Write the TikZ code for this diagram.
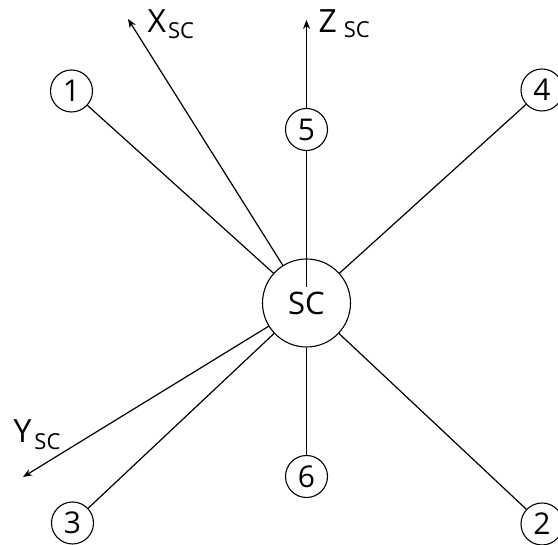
\documentclass[tikz,border=0pt]{standalone}
\usepackage{fontspec}
\setmainfont{Open Sans}
\usetikzlibrary{arrows.meta,backgrounds}
\newcommand\mysubfont{\fontsize{22}{22}\selectfont}
\begin{document}
\begin{tikzpicture}[x=1pt,y=1pt,
  line width=1.1pt,
  num/.style={circle,draw,fill=white,line width=1.1pt,minimum size=42pt,inner sep=0pt,font=\fontsize{30}{30}\selectfont},
  hub/.style={circle,draw,line width=1.1pt,minimum size=88pt,inner sep=0pt,font=\fontsize{31}{31}\selectfont},
  link/.style={line width=1.2pt},
  axis/.style={link,-{Stealth[length=9pt,width=7pt]}},
  lbl/.style={anchor=base west,inner sep=0pt,font=\fontsize{32}{32}\selectfont}
]
\useasboundingbox (0,0) rectangle (558,545);
\node[hub] (sc) at (306.5,242) {SC};
\node[num] (n1) at (71.5,454) {1};
\node[num] (n5) at (306.5,415.5) {5};
\node[num] (n4) at (542,455) {4};
\node[num] (n3) at (72.5,22) {3};
\node[num] (n6) at (306.5,68.5) {6};
\node[num] (n2) at (542,21) {2};
\coordinate (xt) at (128,526);
\coordinate (zt) at (306.5,525);
\coordinate (yt) at (23,68);
\coordinate (zin) at (306.5,258);
\node[lbl] (xl) at (147,512) {X\hspace{2pt}\raisebox{-6pt}{\mysubfont SC}};
\node[lbl] (zl) at (318,512) {Z\hspace{7pt}\raisebox{-5pt}{\mysubfont SC}};
\node[lbl] (yl) at (13,102) {Y\hspace{3pt}\raisebox{-7pt}{\mysubfont SC}};
\begin{scope}[on background layer]
\draw[link] (sc) -- (n1);
\draw[link] (sc) -- (n4);
\draw[link] (sc) -- (n3);
\draw[link] (sc) -- (n6);
\draw[link] (sc) -- (n2);
\draw[axis] (sc) -- (xt);
\draw[axis] (sc) -- (yt);
\draw[axis] (zin) -- (zt);
\end{scope}
\end{tikzpicture}
\end{document}
